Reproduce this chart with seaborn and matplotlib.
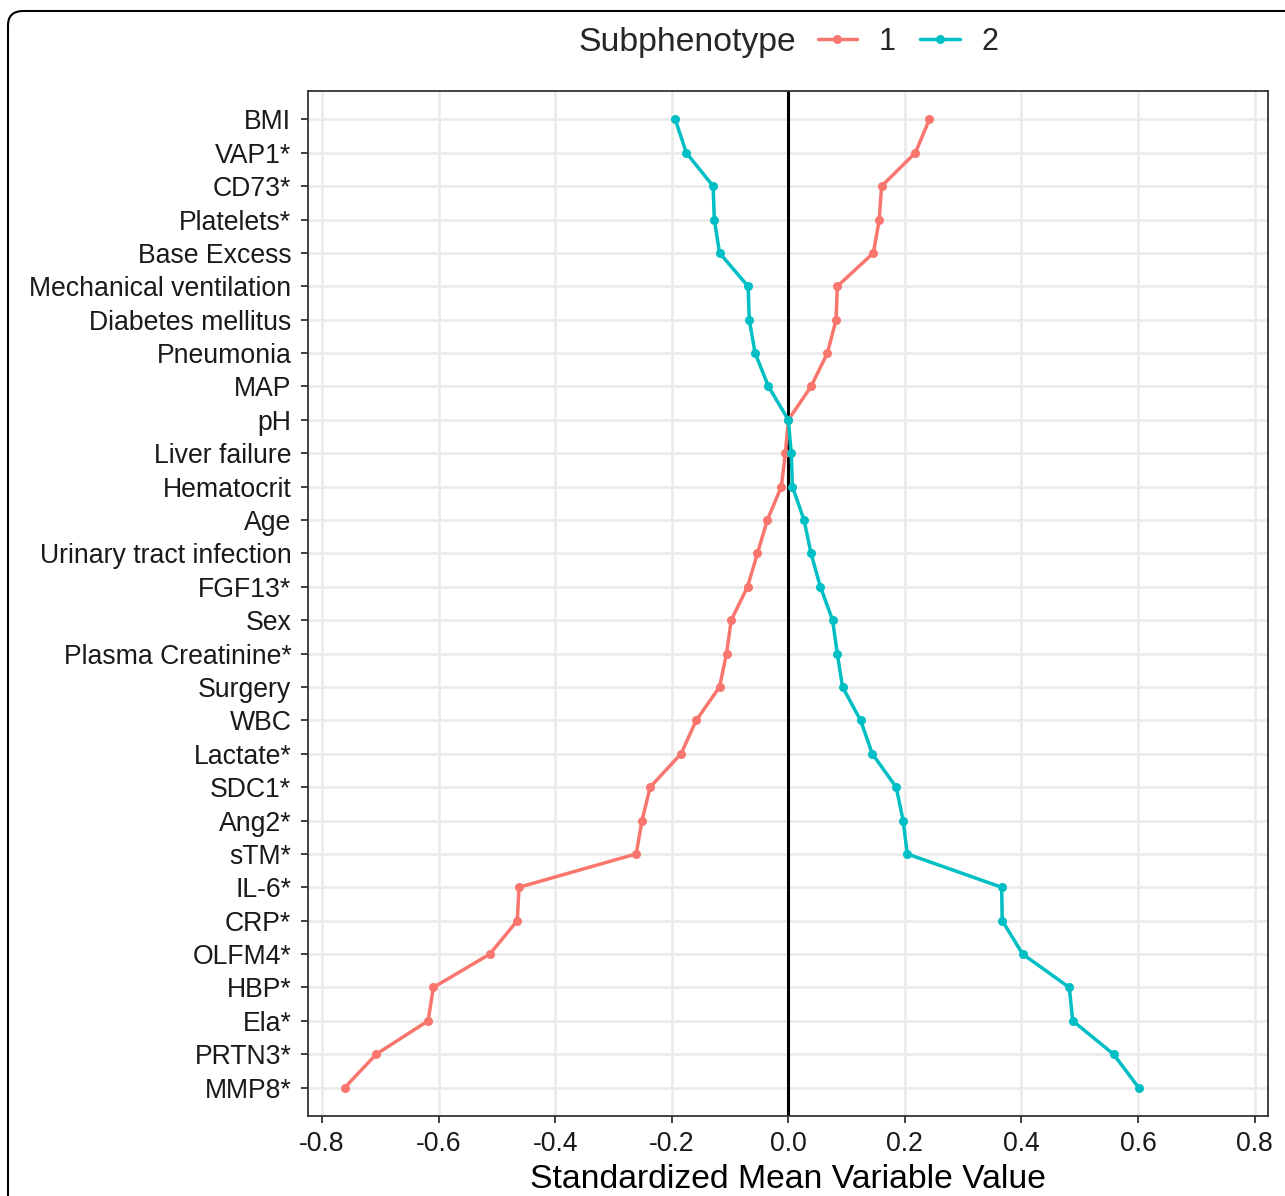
import matplotlib
matplotlib.use('Agg')
import matplotlib.pyplot as plt
import seaborn as sns
import pandas as pd
from matplotlib.lines import Line2D
from matplotlib.patches import FancyBboxPatch

# variables, top to bottom
variables = ['BMI', 'VAP1*', 'CD73*', 'Platelets*', 'Base Excess', 'Mechanical ventilation',
             'Diabetes mellitus', 'Pneumonia', 'MAP', 'pH', 'Liver failure', 'Hematocrit', 'Age',
             'Urinary tract infection', 'FGF13*', 'Sex', 'Plasma Creatinine*', 'Surgery', 'WBC',
             'Lactate*', 'SDC1*', 'Ang2*', 'sTM*', 'IL-6*', 'CRP*', 'OLFM4*', 'HBP*', 'Ela*',
             'PRTN3*', 'MMP8*']

sub1 = [0.242, 0.218, 0.160, 0.156, 0.146, 0.084, 0.082, 0.067, 0.039, 0.0,
        -0.005, -0.012, -0.036, -0.053, -0.070, -0.098, -0.106, -0.118, -0.158,
        -0.184, -0.237, -0.251, -0.261, -0.462, -0.465, -0.512, -0.609, -0.618,
        -0.707, -0.761]
sub2 = [-0.194, -0.175, -0.129, -0.127, -0.118, -0.069, -0.067, -0.057, -0.034, 0.0,
        0.005, 0.007, 0.027, 0.039, 0.055, 0.076, 0.084, 0.093, 0.124,
        0.144, 0.185, 0.197, 0.204, 0.366, 0.367, 0.402, 0.482, 0.488,
        0.558, 0.601]

xticks = [-0.8, -0.6, -0.4, -0.2, 0.0, 0.2, 0.4, 0.6, 0.8]
colors = {'1': '#F8766D', '2': '#00BFC4'}

data = pd.DataFrame({'variable': variables * 2,
                     'value': sub1 + sub2,
                     'Subphenotype': ['1'] * len(variables) + ['2'] * len(variables)})

sns.set_theme(style='white')
plt.rcParams['font.family'] = ['Liberation Sans', 'DejaVu Sans']

fig = plt.figure(figsize=(12.85, 11.96), dpi=100)
ax = fig.add_axes([0.2397, 0.0669, 0.7471, 0.8570])

# grid
for t in xticks:
    ax.axvline(t, color='#EBEBEB', lw=2, zorder=0)
for i in range(len(variables)):
    ax.axhline(i, color='#EBEBEB', lw=2, zorder=0)

ax.axvline(0, color='black', lw=2.2, zorder=1)

sns.lineplot(data=data, x='value', y='variable', hue='Subphenotype', palette=colors,
             orient='y', sort=False, estimator=None, marker='o', markersize=6.5,
             markeredgewidth=0, lw=2.5, ax=ax, zorder=3, legend=False)

ax.set_xlim(-0.824, 0.823)
ax.set_ylim(len(variables) - 1 + 0.85, -0.85)
ax.set_xticks(xticks)
ax.set_xticklabels(['%.1f' % t for t in xticks])
ax.set_yticks(range(len(variables)))
ax.set_yticklabels(variables)
ax.tick_params(axis='both', labelsize=19.2, colors='#333333', length=5, width=1.3,
               labelcolor='#1a1a1a', direction='out')
ax.tick_params(axis='y', pad=7)
ax.tick_params(axis='x', pad=6)
ax.tick_params(axis='both', left=True, bottom=True)
ax.set_xlabel('Standardized Mean Variable Value', fontsize=24.3, color='black', labelpad=5)
ax.set_ylabel('')
for s in ax.spines.values():
    s.set_color('#333333')
    s.set_linewidth(1.3)

# legend on top
fig.text(687 / 1285, 1 - 42 / 1196, 'Subphenotype', fontsize=24.3, va='center', ha='center')
handles = [Line2D([], [], color=colors[k], lw=2.5, marker='o', markersize=6.5, markeredgewidth=0)
           for k in ['1', '2']]
fig.legend(handles, ['1', '2'], ncol=2, loc='center left',
           bbox_to_anchor=(790 / 1285, 1 - 42 / 1196),
           frameon=False, fontsize=22, handlelength=1.3, columnspacing=0.8, handletextpad=0.7)

# rounded frame around figure
frame = FancyBboxPatch((8 / 1285, -0.05), 1.1, 1.05 - 11 / 1196,
                       boxstyle='round,pad=0,rounding_size=0.012',
                       transform=fig.transFigure, fill=False, ec='black', lw=1.5)
fig.patches.append(frame)

fig.savefig('out.png', dpi=100)
